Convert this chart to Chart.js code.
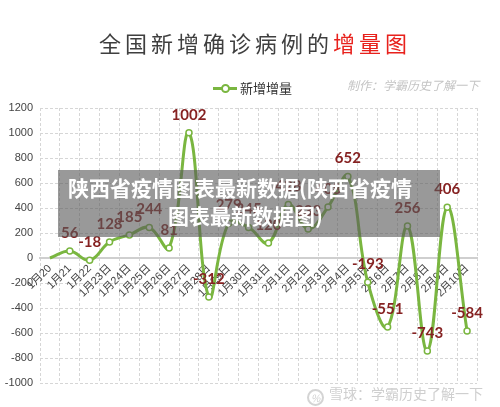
<!DOCTYPE html>
<html>
<head>
<meta charset="utf-8">
<script src="https://cdn.jsdelivr.net/npm/chart.js@4"></script>
<style>
  html, body { margin: 0; padding: 0; background: #fff; }
  #wrap { position: relative; width: 500px; height: 407px; overflow: hidden; font-family: "Noto Sans CJK SC", sans-serif; }
  #chart { position: absolute; left: 0; top: 0; }
  .title { position: absolute; left: 0; width: 510px; top: 26px; text-align: center; font-size: 22px; letter-spacing: 4px; color: #3f3f3f; white-space: nowrap; }
  .title .red { color: #e8211c; }
  .legend { position: absolute; left: 213px; top: 78px; font-size: 13px; color: #333; white-space: nowrap; }
  .legend .mark { display: inline-block; position: relative; width: 24px; height: 12px; vertical-align: -1px; margin-right: 3px; }
  .legend .mark:before { content: ""; position: absolute; left: 0; right: 0; top: 5px; height: 3px; background: #7ab640; }
  .legend .mark:after { content: ""; position: absolute; left: 8px; top: 2px; width: 5px; height: 5px; border: 2px solid #7ab640; border-radius: 50%; background: #fff; }
  .maker { position: absolute; left: 347px; top: 76px; font-size: 12px; font-style: italic; color: #c4c4c4; white-space: nowrap; }
  .overlay { position: absolute; left: 58px; top: 170px; width: 382px; height: 67px; background: rgba(90, 90, 90, 0.62); }
  .overlay div { position: absolute; color: #fff; font-weight: bold; font-size: 21px; line-height: 26px; white-space: nowrap; }
  .foot { position: absolute; left: 307px; top: 383px; font-size: 14px; color: #cfcfcf; white-space: nowrap; }
  .foot .logo { display: inline-block; width: 13px; height: 13px; border: 2px solid #d4d4d4; border-radius: 50%; vertical-align: -3px; margin-right: 5px; font-size: 10px; line-height: 13px; text-align: center; font-style: italic; }
</style>
</head>
<body>
<div id="wrap">
  <canvas id="chart" width="500" height="407"></canvas>
  <div class="title">全国新增确诊病例的<span class="red">增量图</span></div>
  <div class="legend"><span class="mark"></span>新增增量</div>
  <div class="maker">制作：学霸历史了解一下</div>
  <div class="overlay">
    <div style="left:10px; top:4px;">陕西省疫情图表最新数据(陕西省疫情</div>
    <div style="left:110px; top:32px;">图表最新数据图)</div>
  </div>
  <div class="foot"><span class="logo">%</span>雪球：学霸历史了解一下</div>
</div>
<script>
// 日期
const dates = ['1月20', '1月21', '1月22', '1月23日', '1月24日', '1月25日', '1月26日', '1月27日',
    '1月28日', '1月29日', '1月30日', '1月31日', '2月1日', '2月2日', '2月3日', '2月4日',
    '2月5日', '2月6日', '2月7日', '2月8日', '2月9日', '2月10日'];

// 新增增量
const increments = [0, 56, -18, 128, 185, 244, 81, 1002, -312, 279, 245, 120, 428, 233, 408, 652,
    -193, -551, 256, -743, 406, -584];

// 纵轴刻度
const yMin = -1000;
const yMax = 1200;
const yStep = 200;

const green = '#7ab640';
const labelColor = '#862222';

// 数据标签
const valueLabels = {
    id: 'valueLabels',
    afterDatasetsDraw(chart) {
        const ctx = chart.ctx;
        const meta = chart.getDatasetMeta(0);
        ctx.save();
        ctx.font = 'bold 15px Lato, "Liberation Sans", sans-serif';
        ctx.fillStyle = labelColor;
        ctx.textAlign = 'center';
        ctx.textBaseline = 'middle';
        meta.data.forEach((pt, i) => {
            if (i === 0) return;
            ctx.fillText(String(increments[i]), pt.x, pt.y - 18);
        });
        ctx.restore();
    }
};

new Chart(document.getElementById('chart'), {
    type: 'line',
    data: {
        labels: dates,
        datasets: [{
            label: '新增增量',
            data: increments,
            borderColor: green,
            borderWidth: 3,
            tension: 0.4,
            pointRadius: (c) => c.dataIndex === 0 ? 0 : 3,
            pointBackgroundColor: '#fff',
            pointBorderColor: green,
            pointBorderWidth: 1.5,
            fill: false
        }]
    },
    options: {
        responsive: false,
        animation: false,
        layout: { padding: { left: 0, right: 23, top: 108, bottom: 24 } },
        plugins: {
            legend: { display: false },
            tooltip: { enabled: false }
        },
        scales: {
            x: {
                position: { y: 0 },
                offset: true,
                grid: {
                    offset: true,
                    color: '#d6d6d6',
                    lineWidth: 1,
                    drawTicks: false
                },
                border: { display: true, color: '#cfcfcf', width: 2, dash: [3, 2] },
                ticks: {
                    autoSkip: false,
                    minRotation: 45,
                    maxRotation: 45,
                    padding: 4,
                    color: '#444',
                    font: { size: 11, family: '"Liberation Sans", "Noto Sans CJK SC", sans-serif' }
                }
            },
            y: {
                min: yMin,
                max: yMax,
                afterFit(scale) { scale.width = 40; },
                grid: {
                    color: (c) => c.tick && c.tick.value === 0 ? '#d0d0d0' : '#d6d6d6',
                    lineWidth: (c) => c.tick && c.tick.value === 0 ? 2 : 1,
                    drawTicks: false
                },
                border: {
                    display: false,
                    dash: (c) => c.tick && c.tick.value === 0 ? [] : [3, 2]
                },
                ticks: {
                    stepSize: yStep,
                    padding: 7,
                    color: '#444',
                    font: { size: 11, family: '"Liberation Sans", Arial, sans-serif' },
                    callback: (v) => String(v)
                }
            }
        }
    },
    plugins: [valueLabels]
});
</script>
</body>
</html>
